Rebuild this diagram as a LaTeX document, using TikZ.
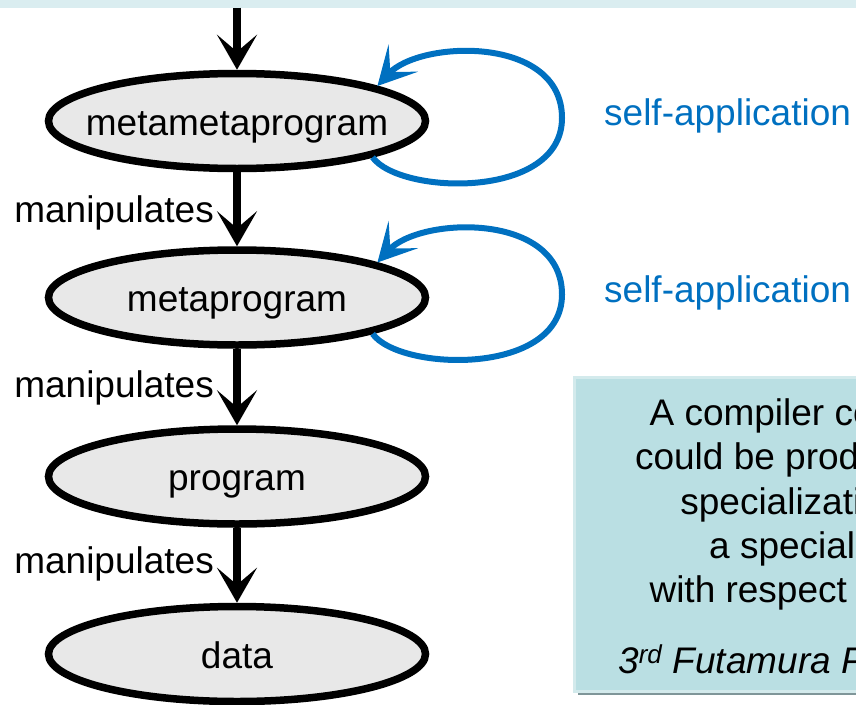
\documentclass[tikz,border=0pt]{standalone}
\usepackage{fontspec}
\setmainfont{Liberation Sans}
\usetikzlibrary{arrows.meta,shapes.geometric}
\definecolor{bandc}{HTML}{DAEDF0}
\definecolor{ellfill}{HTML}{E8E8E8}
\definecolor{selfblue}{HTML}{0070C0}
\definecolor{boxfill}{HTML}{BADFE3}
\definecolor{boxedge}{HTML}{D3EAEC}
\definecolor{shadowc}{HTML}{7F9699}
\begin{document}
\begin{tikzpicture}[x=1pt,y=-1pt,
  every node/.style={font=\fontsize{37}{44}\selectfont, inner sep=0pt},
  blob/.style={ellipse, draw=black, line width=7.5pt, fill=ellfill,
    minimum width=377pt, minimum height=95pt, text height=30pt, text depth=2pt},
  blk/.style={line width=7.5pt, -{Stealth[length=35pt,width=40pt,inset=17pt]}},
  selfloop/.style={draw=selfblue, line width=6pt, -{Stealth[length=38pt,width=40pt,inset=19pt]}},
  lbl/.style={anchor=base east},
  slbl/.style={anchor=base west, text=selfblue},
  boxtxt/.style={anchor=base}]
\useasboundingbox (0,0) rectangle (856,704);
\clip (0,0) rectangle (856,704);
% top band
\fill[bandc] (0,0) rectangle (856,7.5);
\coordinate (topin) at (237,7.5);
% ellipses
\node[blob] (mmp) at (237,121) {\makebox[0pt]{metametaprogram}};
\node[blob] (mp) at (237,297.5) {\makebox[0pt]{metaprogram}};
\node[blob] (p) at (237,476.5) {\makebox[0pt]{program}};
\node[blob] (d) at (237,654) {\makebox[0pt]{data}};
% black arrows
\draw[blk] (topin) -- (mmp);
\draw[blk] (mmp) -- (mp);
\draw[blk] (mp) -- (p);
\draw[blk] (p) -- (d);
% labels
\node[lbl] (l1) at (214,222) {manipulates};
\node[lbl] (l2) at (214,397) {manipulates};
\node[lbl] (l3) at (214,573) {manipulates};
% self loops
\coordinate (r1) at (562,118);
\coordinate (r2) at (562,294.5);
\draw[selfloop] (mmp.-15.5) .. controls (400,195) and (562,200) .. (r1)
  .. controls (562,35) and (420,40) .. (mmp.14);
\draw[selfloop] (mp.-15.5) .. controls (400,371.5) and (562,376.5) .. (r2)
  .. controls (562,211.5) and (420,216.5) .. (mp.14);
\node[slbl] (s1) at (604,125) {self-application};
\node[slbl] (s2) at (604,302) {self-application};
% note box
\fill[shadowc] (578,382) rectangle (1050,695);
\filldraw[fill=boxfill, draw=boxedge, line width=3pt] (574.5,377.5) rectangle (1050,691);
\node[boxtxt] (t1) at (812,425) {A compiler compiler};
\node[boxtxt] (t2) at (812,469) {could be produced by};
\node[boxtxt] (t3) at (812,514) {specialization of};
\node[boxtxt] (t4) at (812,558) {a specializer};
\node[boxtxt] (t5) at (812,602) {with respect to itself};
\node[boxtxt] (t6) at (812,673) {\itshape 3\textsuperscript{rd} Futamura Projection};
\end{tikzpicture}
\end{document}
